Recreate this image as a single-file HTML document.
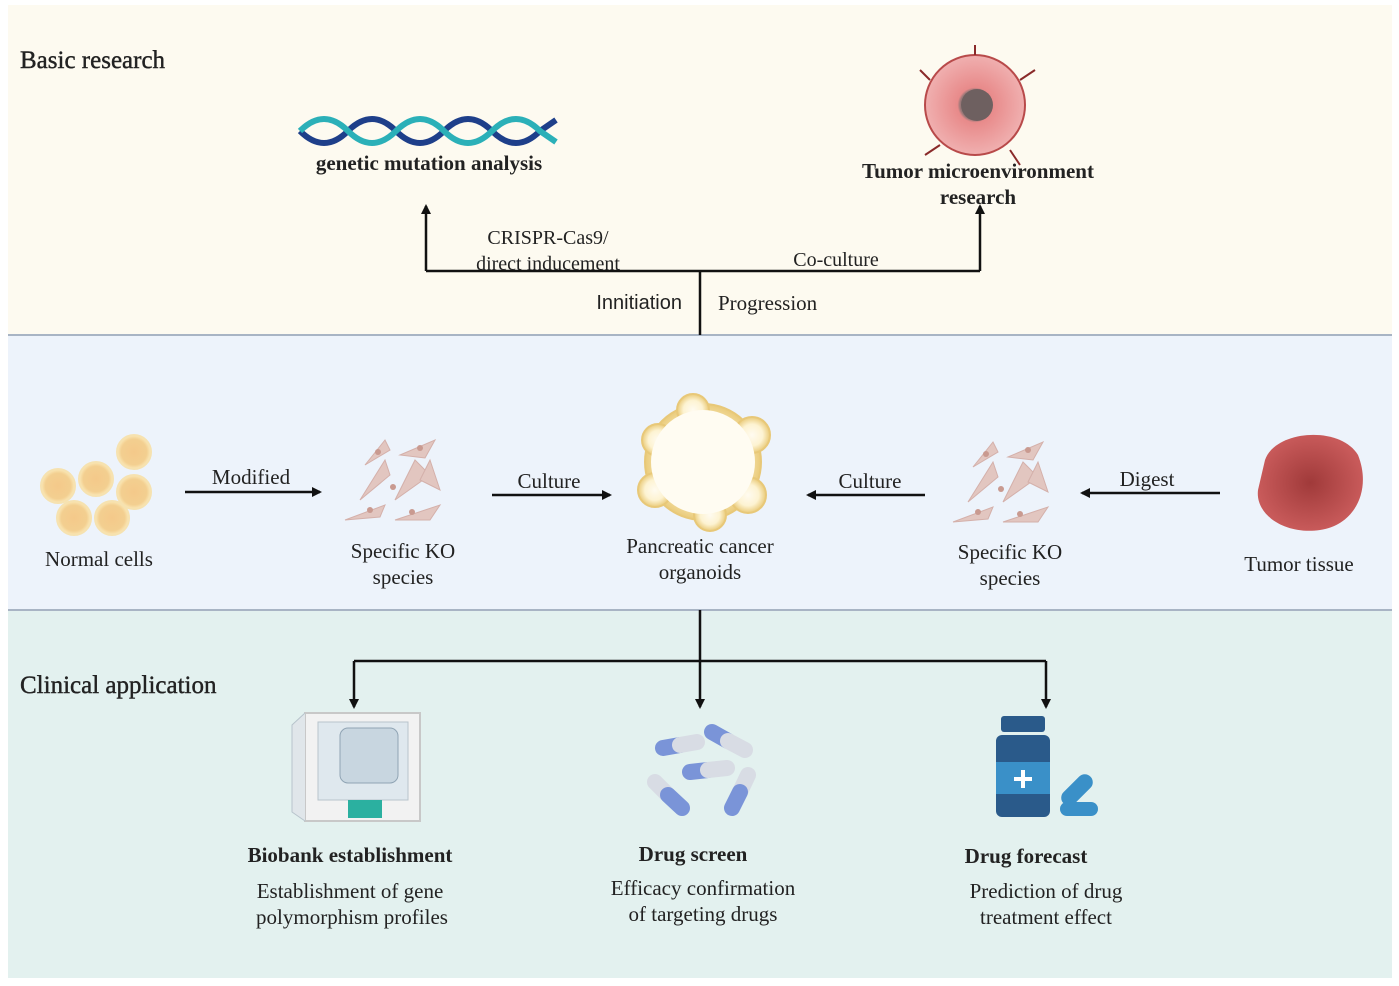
<!DOCTYPE html>
<html><head><meta charset="utf-8"><style>
html,body{margin:0;padding:0;background:#fff;}
svg{display:block}
.s{font-family:"Liberation Serif",serif;fill:#222}
.b{font-weight:bold}
</style></head><body>
<svg width="1399" height="986" viewBox="0 0 1399 986" xmlns="http://www.w3.org/2000/svg">
<defs>
<marker id="a" markerWidth="10" markerHeight="10" refX="8" refY="5" orient="auto" markerUnits="userSpaceOnUse"><path d="M0,0 L10,5 L0,10 z" fill="#111"/></marker>
<radialGradient id="cell" cx="50%" cy="50%" r="50%"><stop offset="0" stop-color="#f4c98a"/><stop offset="0.75" stop-color="#f3cf90"/><stop offset="1" stop-color="#fbe9b8"/></radialGradient>
<radialGradient id="org" cx="50%" cy="50%" r="50%"><stop offset="0" stop-color="#fffbf0"/><stop offset="0.6" stop-color="#fdf3d2"/><stop offset="1" stop-color="#eacb7a"/></radialGradient>
<radialGradient id="tum" cx="50%" cy="50%" r="50%"><stop offset="0" stop-color="#a03a3a"/><stop offset="1" stop-color="#c85a5a"/></radialGradient>
<radialGradient id="tmc" cx="50%" cy="50%" r="50%"><stop offset="0" stop-color="#7a6a6a"/><stop offset="0.3" stop-color="#9a7878"/><stop offset="0.35" stop-color="#e88a8a"/><stop offset="1" stop-color="#f0b0b0"/></radialGradient>
</defs>
<rect x="8" y="5" width="1384" height="330" fill="#fdfaf0"/>
<rect x="8" y="335" width="1384" height="275" fill="#edf3fb"/>
<rect x="8" y="610" width="1384" height="368" fill="#e3f1ef"/>
<line x1="8" y1="335" x2="1392" y2="335" stroke="#a8b4c4" stroke-width="2"/>
<line x1="8" y1="610" x2="1392" y2="610" stroke="#a8b4c4" stroke-width="2"/>

<text x="20" y="68" class="s" font-size="25" stroke="#222" stroke-width="0.4">Basic research</text>
<text x="20" y="693" class="s" font-size="25" stroke="#222" stroke-width="0.4">Clinical application</text>

<!-- DNA -->
<g fill="none" stroke-width="6">
<path d="M300,131 C316,147 332,147 348,131 S380,115 396,131 S428,147 444,131 S476,115 492,131 S524,147 540,131 L556,120" stroke="#1e3f8a"/>
<path d="M300,131 C316,115 332,115 348,131 S380,147 396,131 S428,115 444,131 S476,147 492,131 S524,115 540,131 L556,142" stroke="#2bb0b8"/>
</g>
<text x="429" y="170" class="s b" font-size="21" text-anchor="middle">genetic mutation analysis</text>

<circle cx="975" cy="105" r="50" fill="url(#tmc)" stroke="#b84a4a" stroke-width="2"/>
<circle cx="977" cy="105" r="16" fill="#6e6060"/>
<path d="M930,80 l-10,-10 M1020,80 l15,-10 M1010,150 l10,15 M940,145 l-15,10 M975,55 l0,-10" stroke="#8a2a2a" stroke-width="2"/>
<text x="978" y="178" class="s b" font-size="21" text-anchor="middle">Tumor microenvironment</text>
<text x="978" y="204" class="s b" font-size="21" text-anchor="middle">research</text>

<g stroke="#111" stroke-width="2.5" fill="none">
<path d="M700,335 L700,271"/>
<path d="M426,271 L980,271"/>
<path d="M426,271 L426,206" marker-end="url(#a)"/>
<path d="M980,271 L980,206" marker-end="url(#a)"/>
</g>
<text x="548" y="244" class="s" font-size="20" text-anchor="middle">CRISPR-Cas9/</text>
<text x="548" y="270" class="s" font-size="20" text-anchor="middle">direct inducement</text>
<text x="836" y="266" class="s" font-size="20" text-anchor="middle">Co-culture</text>
<text x="682" y="309" font-family="Liberation Sans,sans-serif" font-size="20" fill="#222" text-anchor="end">Innitiation</text>
<text x="718" y="310" class="s" font-size="21">Progression</text>

<g fill="url(#cell)" stroke="#f6e2b0" stroke-width="2">
<circle cx="134" cy="452" r="17"/><circle cx="96" cy="479" r="17"/><circle cx="134" cy="492" r="17"/>
<circle cx="58" cy="486" r="17"/><circle cx="74" cy="518" r="17"/><circle cx="112" cy="518" r="17"/>
</g>
<text x="99" y="566" class="s" font-size="21" text-anchor="middle">Normal cells</text>

<g id="ko" fill="#e2c6c0" stroke="#d4b0aa">
<path d="M365,465 l20,-25 l5,10 z"/><path d="M400,455 l35,-15 l-10,18 z"/>
<path d="M360,500 l25,-40 l5,15 z"/><path d="M395,500 l20,-40 l15,15 z"/>
<path d="M345,520 l40,-15 l-5,12 z"/><path d="M395,520 l45,-15 l-10,15 z"/>
<path d="M420,480 l10,-20 l10,30 z"/>
</g>
<g fill="#c99a90"><circle cx="378" cy="452" r="3"/><circle cx="420" cy="448" r="3"/><circle cx="393" cy="487" r="3"/><circle cx="370" cy="510" r="3"/><circle cx="412" cy="512" r="3"/></g>
<text x="403" y="558" class="s" font-size="21" text-anchor="middle">Specific KO</text>
<text x="403" y="584" class="s" font-size="21" text-anchor="middle">species</text>
<use href="#ko" transform="translate(608,2)"/>
<g fill="#c99a90"><circle cx="986" cy="454" r="3"/><circle cx="1028" cy="450" r="3"/><circle cx="1001" cy="489" r="3"/><circle cx="978" cy="512" r="3"/><circle cx="1020" cy="514" r="3"/></g>
<text x="1010" y="559" class="s" font-size="21" text-anchor="middle">Specific KO</text>
<text x="1010" y="585" class="s" font-size="21" text-anchor="middle">species</text>

<g fill="url(#org)" stroke="#e8c878" stroke-width="2">
<circle cx="703" cy="462" r="58"/>
<circle cx="693" cy="410" r="16"/><circle cx="752" cy="435" r="18"/><circle cx="658" cy="440" r="16"/>
<circle cx="655" cy="490" r="17"/><circle cx="748" cy="495" r="18"/><circle cx="710" cy="515" r="16"/>
</g>
<circle cx="703" cy="462" r="52" fill="#fffcf2"/>
<text x="700" y="553" class="s" font-size="21" text-anchor="middle">Pancreatic cancer</text>
<text x="700" y="579" class="s" font-size="21" text-anchor="middle">organoids</text>

<path d="M1265,460 C1275,430 1340,425 1358,455 C1372,490 1355,525 1320,530 C1285,535 1255,515 1258,490 Z" fill="url(#tum)"/>
<text x="1299" y="571" class="s" font-size="21" text-anchor="middle">Tumor tissue</text>

<g stroke="#111" stroke-width="2.5">
<line x1="185" y1="492" x2="320" y2="492" marker-end="url(#a)"/>
<line x1="492" y1="495" x2="610" y2="495" marker-end="url(#a)"/>
<line x1="925" y1="495" x2="808" y2="495" marker-end="url(#a)"/>
<line x1="1220" y1="493" x2="1082" y2="493" marker-end="url(#a)"/>
</g>
<text x="251" y="484" class="s" font-size="21" text-anchor="middle">Modified</text>
<text x="549" y="488" class="s" font-size="21" text-anchor="middle">Culture</text>
<text x="870" y="488" class="s" font-size="21" text-anchor="middle">Culture</text>
<text x="1147" y="486" class="s" font-size="21" text-anchor="middle">Digest</text>

<g stroke="#111" stroke-width="2.5" fill="none">
<path d="M700,610 L700,707" marker-end="url(#a)"/>
<path d="M354,661 L1046,661"/>
<path d="M354,661 L354,707" marker-end="url(#a)"/>
<path d="M1046,661 L1046,707" marker-end="url(#a)"/>
</g>

<rect x="305" y="713" width="115" height="108" fill="#f2f2f2" stroke="#c8c8c8" stroke-width="2"/>
<rect x="318" y="722" width="90" height="78" fill="#dfe8ee" stroke="#b8c4cc"/>
<rect x="340" y="728" width="58" height="55" rx="8" fill="#c8d6e0" stroke="#90a4b4"/>
<rect x="348" y="800" width="34" height="18" fill="#2bb0a0"/>
<path d="M305,713 L292,725 L292,812 L305,821" fill="#e0e6ea" stroke="#b8c4cc"/>
<text x="350" y="862" class="s b" font-size="21" text-anchor="middle">Biobank establishment</text>
<text x="350" y="898" class="s" font-size="21" text-anchor="middle">Establishment of gene</text>
<text x="352" y="924" class="s" font-size="21" text-anchor="middle">polymorphism profiles</text>

<g stroke-width="16" stroke-linecap="round">
<line x1="663" y1="748" x2="680" y2="745" stroke="#7a94d8"/><line x1="680" y1="745" x2="697" y2="742" stroke="#d8dce4"/>
<line x1="712" y1="732" x2="728" y2="741" stroke="#7a94d8"/><line x1="728" y1="741" x2="745" y2="750" stroke="#d8dce4"/>
<line x1="690" y1="772" x2="708" y2="770" stroke="#7a94d8"/><line x1="708" y1="770" x2="727" y2="768" stroke="#d8dce4"/>
<line x1="655" y1="782" x2="668" y2="795" stroke="#d8dce4"/><line x1="668" y1="795" x2="682" y2="808" stroke="#7a94d8"/>
<line x1="748" y1="775" x2="740" y2="792" stroke="#d8dce4"/><line x1="740" y1="792" x2="732" y2="808" stroke="#7a94d8"/>
</g>
<text x="693" y="861" class="s b" font-size="21" text-anchor="middle">Drug screen</text>
<text x="703" y="895" class="s" font-size="21" text-anchor="middle">Efficacy confirmation</text>
<text x="703" y="921" class="s" font-size="21" text-anchor="middle">of targeting drugs</text>

<rect x="1001" y="716" width="44" height="16" rx="3" fill="#2a5a8a"/>
<rect x="996" y="735" width="54" height="82" rx="6" fill="#2a5a8a"/>
<rect x="996" y="762" width="54" height="32" fill="#3a90c8"/>
<path d="M1023,770 v18 M1014,779 h18" stroke="#fff" stroke-width="4"/>
<rect x="1058" y="782" width="38" height="16" rx="8" fill="#3a90c8" transform="rotate(-45 1077 790)"/>
<rect x="1060" y="802" width="38" height="14" rx="7" fill="#3a90c8"/>
<text x="1026" y="863" class="s b" font-size="21" text-anchor="middle">Drug forecast</text>
<text x="1046" y="898" class="s" font-size="21" text-anchor="middle">Prediction of drug</text>
<text x="1046" y="924" class="s" font-size="21" text-anchor="middle">treatment effect</text>
</svg>
</body></html>
